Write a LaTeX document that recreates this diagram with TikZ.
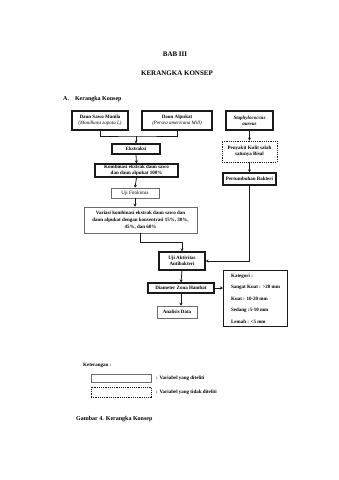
\documentclass[tikz,border=0pt]{standalone}
\usepackage{fontspec}
\setmainfont{Liberation Serif}
\usepackage{xcolor}
\usetikzlibrary{arrows.meta,positioning,calc}
\definecolor{inkline}{HTML}{1a1a1a}
\definecolor{thinline}{HTML}{6b6b6b}

\begin{document}
\begin{tikzpicture}[
  x=1pt,y=-1pt,
  every node/.style={font=\fontsize{5}{6}\selectfont\bfseries,inner sep=1pt},
  vbox/.style={draw=inkline,line width=1.1pt,align=center},
  tbox/.style={draw=thinline,line width=0.5pt,align=center},
  dbox/.style={draw=inkline,line width=0.8pt,dash pattern=on 1.2pt off 1pt,align=center},
  arr/.style={-{Stealth[length=3pt,width=3pt]},line width=0.8pt,inkline},
  ln/.style={line width=0.8pt,inkline},
  ttl/.style={font=\fontsize{7}{8}\selectfont\bfseries}
]
\useasboundingbox[fill=white] (0,0) rectangle (339,480);

% Heading
\node[ttl] (bab) at (175,54) {BAB III};
\node[ttl] (judul) at (177,73) {KERANGKA KONSEP};
\node[font=\fontsize{6}{7}\selectfont\bfseries,anchor=west] (subA) at (62,99)
  {A.\quad Kerangka Konsep};

% Left column — bahan
\node[vbox,minimum width=56pt,minimum height=19pt] (sawo) at (100,120.5)
  {Daun Sawo Manila\\{\mdseries\itshape (Manilkara zapota L)}};
\node[vbox,minimum width=70pt,minimum height=19pt] (alpukat) at (177,120.5)
  {Daun Alpukat\\{\mdseries\itshape (Persea americana Mill)}};
\coordinate (jn) at (136,136);

\node[vbox,minimum width=48pt,minimum height=10pt] (eks) at (136,149) {Ekstraksi};
\node[vbox,minimum width=83pt,minimum height=13pt] (komb) at (136.5,170.5)
  {Kombinasi ekstrak daun sawo\\dan daun alpukat 100\%};
\node[tbox,minimum width=48pt,minimum height=10pt,font=\fontsize{5}{6}\selectfont] (fito)
  at (135,193) {Uji Fitokimia};
\node[tbox,minimum width=113pt,minimum height=26pt,font=\fontsize{5}{6.8}\selectfont\bfseries] (var)
  at (140.5,220)
  {Variasi kombinasi ekstrak daun sawo dan\\daun alpukat dengan konsentrasi 15\%, 30\%,\\45\%, dan 60\%};

% Right column — bakteri
\node[vbox,minimum width=47pt,minimum height=19pt,font=\fontsize{5}{6}\selectfont\bfseries\itshape] (staph)
  at (249.5,120.5) {Staphylococcus\\aureus};
\node[dbox,minimum width=55pt,minimum height=21pt] (kulit) at (249.5,151.5)
  {Penyakit Kulit salah\\satunya Bisul};
\node[vbox,minimum width=53pt,minimum height=12pt] (bakteri) at (249.5,179)
  {Pertumbuhan Bakteri};

% Uji dan hasil
\node[vbox,minimum width=46pt,minimum height=18pt] (akt) at (182,261)
  {Uji Aktivitas\\Antibakteri};
\node[vbox,minimum width=66pt,minimum height=10pt] (diam) at (181,288)
  {Diameter Zona Hambat};
\node[tbox,minimum width=40pt,minimum height=12pt] (ana) at (177,312) {Analisis Data};
\node[vbox,minimum width=64pt,minimum height=56pt,align=left,anchor=north west,
      inner sep=3pt,font=\fontsize{5}{6}\selectfont\bfseries] (kat) at (223,270)
  {Kategori :\\[5.4pt]Sangat Kuat : >20 mm\\[5.4pt]Kuat : 10-20 mm\\[5.4pt]%
   Sedang :5-10 mm\\[5.4pt]Lemah : <5 mm};

% Connectors
\draw[ln] (sawo.south) |- (jn) -| (alpukat.south);
\draw[arr] (jn) -- (eks.north);
\draw[arr] (eks.south) -- (komb.north);
\draw[arr] (komb.south) -- (fito.north);
\draw[arr] (fito.south) -- (fito.south |- var.north);
\draw[arr] (staph.south) -- (kulit.north);
\draw[arr] (kulit.south) -- (bakteri.north);
\draw[arr] (bakteri.south) |- (akt.east);
\draw[arr] (var.south) -- ++(0,9) -| (akt.north);
\draw[arr] (akt.south) -- (diam.north);
\draw[arr] (diam.south) -- (diam.south |- ana.north);
\draw[arr] (diam.east) -- (diam.east -| kat.west);

% Keterangan
\node[anchor=west] (ket) at (82,365) {Keterangan :};
\node[tbox,minimum width=60pt,minimum height=8pt] (lgA) at (121,378) {};
\node[anchor=west] (lgAt) at (155,378) {: Variabel yang diteliti};
\node[dbox,minimum width=60pt,minimum height=10pt] (lgB) at (121,392) {};
\node[anchor=west] (lgBt) at (155,392) {: Variabel yang tidak diteliti};

% Caption
\node[font=\fontsize{6}{7}\selectfont\bfseries,anchor=west] (cap) at (75,419)
  {Gambar 4. Kerangka Konsep};
\end{tikzpicture}
\end{document}
